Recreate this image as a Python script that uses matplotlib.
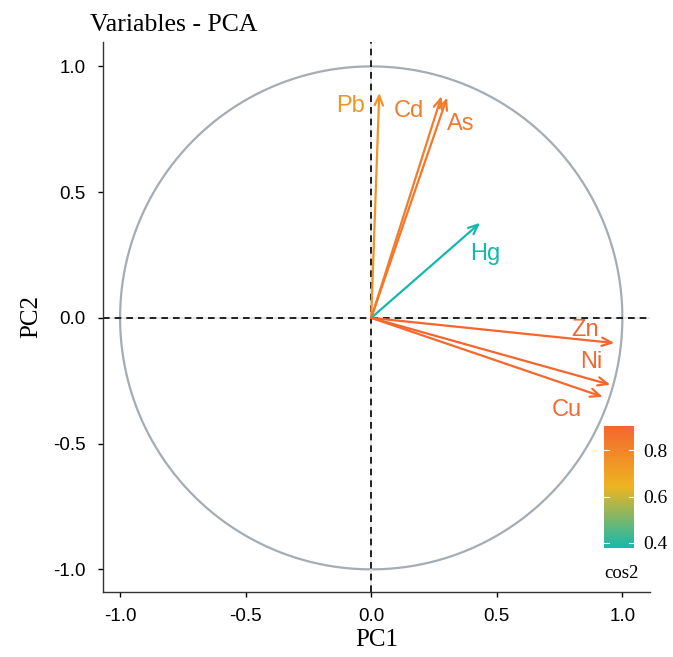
import numpy as np
import matplotlib
matplotlib.use("Agg")
import matplotlib.pyplot as plt
from matplotlib.colors import LinearSegmentedColormap, Normalize
from matplotlib.colorbar import ColorbarBase

variables = ["Pb", "Cd", "As", "Hg", "Zn", "Ni", "Cu"]
pc1 = [0.032, 0.280, 0.302, 0.434, 0.968, 0.952, 0.922]
pc2 = [0.895, 0.882, 0.876, 0.378, -0.100, -0.266, -0.314]
cos2 = [0.75, 0.83, 0.84, 0.378, 0.905, 0.90, 0.895]

# label offsets from the arrow tip, in pixels (x right, y up)
label_offsets = {
    "Pb": (-29, -13), "Cd": (-33, -15), "As": (14, -26), "Hg": (5, -31),
    "Zn": (-29, 13), "Ni": (-19, 23), "Cu": (-36, -13),
}

serif = "Liberation Serif"
sans = "Liberation Sans"

cmap = LinearSegmentedColormap.from_list("fx", ["#14B8AE", "#EDB521", "#F5652E"])
norm = Normalize(vmin=min(cos2), vmax=max(cos2))

fig = plt.figure(figsize=(6.73, 6.57), dpi=100)
ax = fig.add_axes([103 / 673, 1 - 592 / 657, 547 / 673, 550 / 657])
ax.set_xlim(-1.068, 1.11)
ax.set_ylim(-1.09, 1.097)

# correlation circle
t = np.linspace(0, 2 * np.pi, 400)
ax.plot(np.cos(t), np.sin(t), color="#a4acb4", lw=1.6, zorder=1)

# reference lines
ax.axhline(0, color="#e4e4e4", lw=1.2, zorder=1)
ax.axvline(0, color="#e4e4e4", lw=1.2, zorder=1)
ax.axhline(0, color="black", lw=1.2, ls=(0, (4, 3)), xmax=0.995, zorder=2)
ax.axvline(0, color="black", lw=1.2, ls=(0, (4, 3)), zorder=2)

for name, x, y, c in zip(variables, pc1, pc2, cos2):
    col = cmap(norm(c))
    ax.annotate("", xy=(x, y), xytext=(0, 0),
                arrowprops=dict(arrowstyle="->,head_length=0.7,head_width=0.3",
                                color=col, lw=1.6, shrinkA=0, shrinkB=0),
                zorder=3)
    dx, dy = label_offsets[name]
    ax.annotate(name, xy=(x, y), xytext=(dx, dy), textcoords="offset pixels",
                ha="center", va="center", color=col, fontsize=17, family=sans)

ax.set_xticks([-1.0, -0.5, 0.0, 0.5, 1.0])
ax.set_yticks([-1.0, -0.5, 0.0, 0.5, 1.0])
ax.set_xticklabels(["-1.0", "-0.5", "0.0", "0.5", "1.0"], family=sans, fontsize=13.5)
ax.set_yticklabels(["-1.0", "-0.5", "0.0", "0.5", "1.0"], family=sans, fontsize=13.5)
ax.tick_params(length=3.5, width=1, color="black")
ax.tick_params(axis="y", pad=9)
ax.tick_params(axis="x", pad=8)
for s in ["top", "right"]:
    ax.spines[s].set_visible(False)
for s in ["left", "bottom"]:
    ax.spines[s].set_color("#333333")
    ax.spines[s].set_linewidth(1)

ax.set_xlabel("PC1", family=serif, fontsize=18, labelpad=3)
ax.set_ylabel("PC2", family=serif, fontsize=18, labelpad=8)
fig.text(90 / 673, 1 - 25 / 657, "Variables - PCA", family=serif, fontsize=18.5,
         ha="left", va="center")

# colour legend
cax = fig.add_axes([604 / 673, 1 - 548 / 657, 30 / 673, 122 / 657])
cb = ColorbarBase(cax, cmap=cmap, norm=norm, orientation="vertical")
cb.outline.set_visible(False)
cb.set_ticks([0.4, 0.6, 0.8])
cb.set_ticklabels(["0.4", "0.6", "0.8"])
cax.tick_params(length=0, pad=7)
for lab in cax.get_yticklabels():
    lab.set_family(serif)
    lab.set_fontsize(14)
for v in [0.4, 0.6, 0.8]:
    cax.plot([0, 0.18], [v, v], color="white", lw=0.8, transform=cax.get_yaxis_transform())
    cax.plot([0.82, 1], [v, v], color="white", lw=0.8, transform=cax.get_yaxis_transform())
fig.text(621 / 673, 1 - 573 / 657, "cos2", family=serif, fontsize=13.5,
         ha="center", va="center")

fig.savefig("out.png", dpi=100)
